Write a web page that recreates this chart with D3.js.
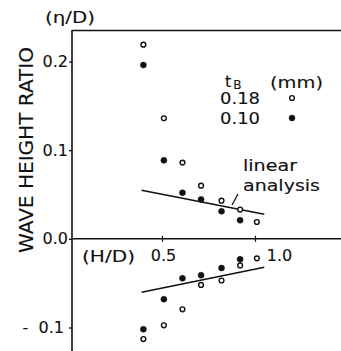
<!DOCTYPE html>
<html>
<head>
<meta charset="utf-8">
<script src="https://cdn.jsdelivr.net/npm/d3@7"></script>
<style>
  body { margin: 0; background: #fff; }
  svg { display: block; }
  text { font-family: "DejaVu Sans", sans-serif; fill: #111; stroke: #111; stroke-width: 0.12; white-space: pre; }
</style>
</head>
<body>
<svg></svg>
<script>
const width = 341;
const height = 351;

// thickness t_B (mm) series
const seriesNames = ["0.18", "0.10"];
const hd = [0.40, 0.51, 0.61, 0.71, 0.82, 0.92, 1.01];

// positive side (crest) and negative side (trough)
const openTop = [0.219, 0.136, 0.086, 0.060, 0.043, 0.033, 0.019];
const filledTop = [0.196, 0.0885, 0.052, 0.0445, 0.031, 0.021];
const openBottom = [-0.113, -0.0975, -0.0795, -0.052, -0.047, -0.030, -0.022];
const filledBottom = [-0.102, -0.068, -0.0445, -0.041, -0.033, -0.023];

// linear analysis lines: [H/D, ratio]
const linearTop = [[0.39, 0.0547], [1.05, 0.0276]];
const linearBottom = [[0.39, -0.0603], [1.05, -0.032]];

const yTicks = [0.2, 0.1, 0.0, -0.1];
const yTickLabels = ["0.2", "0.1", "0.0", "-  0.1"];
const xTicks = [0.5, 1.0];

const x = d3.scaleLinear().domain([0, 1]).range([69, 255]);
const y = d3.scaleLinear().domain([-0.1, 0.2]).range([327.5, 61.5]);

const svg = d3.select("svg")
  .attr("width", width)
  .attr("height", height);

const xLeft = 72;

// frame: top line, left axis
svg.append("line")
  .attr("x1", xLeft).attr("x2", width)
  .attr("y1", 30.5).attr("y2", 30.5)
  .attr("stroke", "#111").attr("stroke-width", 1.6);

svg.append("line")
  .attr("x1", xLeft).attr("x2", xLeft)
  .attr("y1", 30).attr("y2", height)
  .attr("stroke", "#111").attr("stroke-width", 1.6);

// y axis
const yAxis = svg.append("g")
  .attr("transform", `translate(${xLeft},0)`)
  .call(d3.axisLeft(y).tickValues(yTicks).tickSize(3).tickFormat((d, i) => yTickLabels[i]));
yAxis.select(".domain").remove();
yAxis.selectAll(".tick line").attr("stroke", "#111").attr("stroke-width", 1.3);
yAxis.selectAll(".tick text")
  .attr("x", d => d < 0 ? -8 : -4)
  .style("font-size", "16px")
  .style("font-family", "DejaVu Sans, sans-serif")
  .attr("fill", "#111");

// x axis along zero
const xAxis = svg.append("g")
  .attr("transform", `translate(0,${y(0)})`)
  .call(d3.axisBottom(x).tickValues(xTicks).tickSize(3).tickFormat(d3.format(".1f")));
xAxis.select(".domain").remove();
xAxis.selectAll(".tick line").attr("y1", -3).attr("stroke", "#111").attr("stroke-width", 1.2);
xAxis.selectAll(".tick text")
  .style("font-size", "16px")
  .style("font-family", "DejaVu Sans, sans-serif")
  .attr("fill", "#111")
  .attr("y", 11)
  .attr("dx", d => d === 1.0 ? 24 : 1)
  .attr("dy", "0.71em");

svg.append("line")
  .attr("x1", xLeft).attr("x2", width)
  .attr("y1", y(0)).attr("y2", y(0))
  .attr("stroke", "#111").attr("stroke-width", 1.5);

// axis titles
svg.append("text")
  .attr("x", 45).attr("y", 23)
  .attr("textLength", 50).attr("lengthAdjust", "spacingAndGlyphs")
  .style("font-size", "16px")
  .text("(η/D)");

svg.append("text")
  .attr("x", 82).attr("y", 262)
  .attr("textLength", 53).attr("lengthAdjust", "spacingAndGlyphs")
  .style("font-size", "16px")
  .text("(H/D)");

svg.append("text")
  .attr("transform", "translate(33,150) rotate(-90)")
  .attr("text-anchor", "middle")
  .attr("textLength", 206).attr("lengthAdjust", "spacingAndGlyphs")
  .style("font-size", "20px")
  .text("WAVE HEIGHT RATIO");

// linear analysis lines
const line = d3.line().x(d => x(d[0])).y(d => y(d[1]));
[linearTop, linearBottom].forEach(seg => {
  svg.append("path")
    .attr("d", line(seg))
    .attr("fill", "none")
    .attr("stroke", "#111")
    .attr("stroke-width", 1.5);
});

// points
function drawPoints(vals, open) {
  svg.append("g").selectAll("circle")
    .data(vals)
    .join("circle")
    .attr("cx", (d, i) => x(hd[i]))
    .attr("cy", d => y(d))
    .attr("r", open ? 2.4 : 3)
    .attr("fill", open ? "#fff" : "#111")
    .attr("stroke", "#111")
    .attr("stroke-width", open ? 1.4 : 0.5);
}
drawPoints(openTop, true);
drawPoints(filledTop, false);
drawPoints(openBottom, true);
drawPoints(filledBottom, false);

// legend
const legend = svg.append("g");
const tB = legend.append("text")
  .attr("x", 225).attr("y", 87)
  .style("font-size", "16px");
tB.append("tspan").text("t");
tB.append("tspan").attr("dx", 2).attr("dy", 2).style("font-size", "12px").text("B");
legend.append("text")
  .attr("x", 270).attr("y", 88)
  .attr("textLength", 53).attr("lengthAdjust", "spacingAndGlyphs")
  .style("font-size", "16px")
  .text("(mm)");

seriesNames.forEach((name, i) => {
  const ly = 98 + i * 20;
  legend.append("text")
    .attr("x", 220).attr("y", ly + 6)
    .attr("textLength", 40).attr("lengthAdjust", "spacingAndGlyphs")
    .style("font-size", "16px")
    .text(name);
  legend.append("circle")
    .attr("cx", 292).attr("cy", ly)
    .attr("r", i === 0 ? 2.4 : 3)
    .attr("fill", i === 0 ? "#fff" : "#111")
    .attr("stroke", "#111")
    .attr("stroke-width", i === 0 ? 1.4 : 0.5);
});

// annotation
svg.append("text")
  .attr("x", 243).attr("y", 171)
  .attr("textLength", 54).attr("lengthAdjust", "spacingAndGlyphs")
  .style("font-size", "15px")
  .text("linear");
svg.append("text")
  .attr("x", 243).attr("y", 191)
  .attr("textLength", 77).attr("lengthAdjust", "spacingAndGlyphs")
  .style("font-size", "15px")
  .text("analysis");
svg.append("line")
  .attr("x1", 232).attr("y1", 205)
  .attr("x2", 238).attr("y2", 194)
  .attr("stroke", "#111").attr("stroke-width", 1.3);
</script>
</body>
</html>
